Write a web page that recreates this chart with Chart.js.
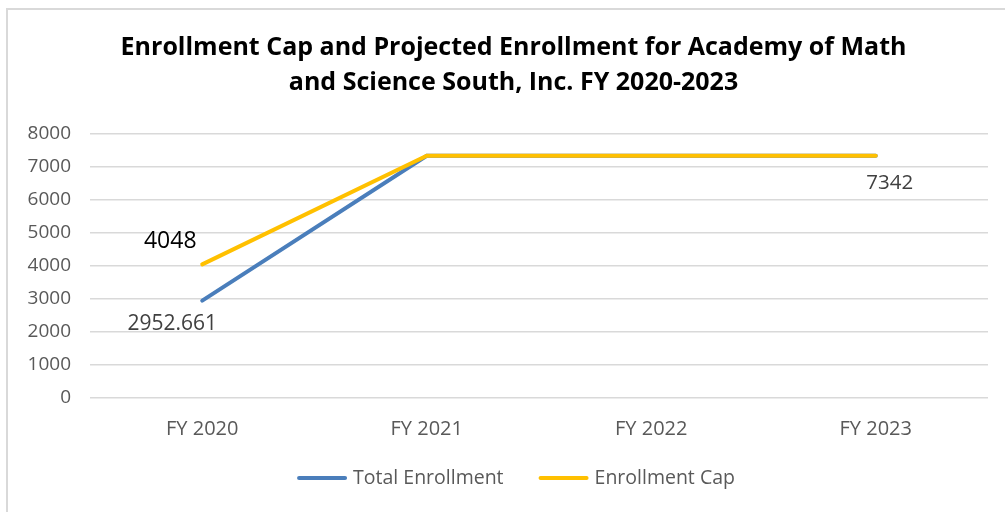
<!DOCTYPE html>
<html>
<head>
<meta charset="utf-8">
<script src="https://cdn.jsdelivr.net/npm/chart.js@4/dist/chart.umd.min.js"></script>
<style>
  html, body { margin: 0; padding: 0; background: #fff; }
  #wrap { position: relative; width: 1005px; height: 512px; overflow: hidden; }
  #frame { position: absolute; left: 6px; top: 8px; width: 1100px; height: 600px;
           border-top: 2px solid #d9d9d9; border-left: 2px solid #d9d9d9; box-sizing: border-box; }
  #c { position: absolute; left: 0; top: 0; }
</style>
</head>
<body>
<div id="wrap">
  <div id="frame"></div>
  <canvas id="c" width="1005" height="512"></canvas>
</div>
<script>
const categories = ["FY 2020", "FY 2021", "FY 2022", "FY 2023"];
const totalEnrollment = [2952.661, 7342, 7342, 7342];
const enrollmentCap = [4048, 7342, 7342, 7342];
const titleLines = ["Enrollment Cap and Projected Enrollment for Academy of Math", "and Science South, Inc. FY 2020-2023"];
const yTicks = [0, 1000, 2000, 3000, 4000, 5000, 6000, 7000, 8000];

// data labels: [datasetIndex, pointIndex, text, dx, dy, color, size]
const pointLabels = [
  [1, 0, "4048", -32, -23, "#000000", 23],
  [0, 0, "2952.661", -30, 23, "#404040", 21],
  [0, 3, "7342", 14, 27, "#404040", 20.5]
];

const FONT = "'Open Sans', 'DejaVu Sans', sans-serif";

const labelPlugin = {
  id: 'pointLabels',
  afterDatasetsDraw(chart) {
    const ctx = chart.ctx;
    ctx.save();
    ctx.textAlign = 'center';
    ctx.textBaseline = 'middle';
    pointLabels.forEach(([ds, i, text, dx, dy, color, size]) => {
      const el = chart.getDatasetMeta(ds).data[i];
      ctx.font = size + "px " + FONT;
      ctx.fillStyle = color;
      ctx.fillText(text, el.x + dx, el.y + dy);
    });
    ctx.restore();
  }
};

// bottom legend drawn from the chart's datasets
const legendPlugin = {
  id: 'bottomLegend',
  afterDraw(chart) {
    const ctx = chart.ctx;
    const lineW = 50, textGap = 6, itemGap = 35, cy = 478, cx = 516;
    ctx.save();
    ctx.font = "19.5px " + FONT;
    const ds = chart.data.datasets;
    const widths = ds.map(d => lineW + textGap + ctx.measureText(d.label).width);
    const total = widths.reduce((a, b) => a + b, 0) + itemGap * (ds.length - 1);
    let x = cx - total / 2;
    ds.forEach((d, k) => {
      ctx.strokeStyle = d.borderColor;
      ctx.lineWidth = 4;
      ctx.lineCap = 'round';
      ctx.beginPath();
      ctx.moveTo(x + 2, cy);
      ctx.lineTo(x + lineW - 2, cy);
      ctx.stroke();
      ctx.fillStyle = '#595959';
      ctx.textAlign = 'left';
      ctx.textBaseline = 'middle';
      ctx.fillText(d.label, x + lineW + textGap, cy);
      x += widths[k] + itemGap;
    });
    ctx.restore();
  }
};

new Chart(document.getElementById('c'), {
  type: 'line',
  data: {
    labels: categories,
    datasets: [
      { label: 'Total Enrollment', data: totalEnrollment, borderColor: '#4a7ebb', backgroundColor: '#4a7ebb',
        borderWidth: 4, pointRadius: 0, tension: 0, order: 2, borderCapStyle: 'round' },
      { label: 'Enrollment Cap', data: enrollmentCap, borderColor: '#ffc000', backgroundColor: '#ffc000',
        borderWidth: 4, pointRadius: 0, tension: 0, order: 1, borderCapStyle: 'round' }
    ]
  },
  options: {
    responsive: false,
    animation: false,
    devicePixelRatio: 1,
    layout: { padding: { left: 24, right: 2, bottom: 61, top: 0 } },
    plugins: {
      title: {
        display: true,
        text: titleLines,
        color: '#000',
        font: { family: FONT, size: 25, weight: 'bold', lineHeight: 1.4 },
        padding: { top: 30, bottom: 34 }
      },
      legend: { display: false },
      tooltip: { enabled: false }
    },
    scales: {
      x: {
        offset: true,
        afterFit(axis) { axis.height = 53; },
        grid: { display: false, drawTicks: false },
        border: { display: false },
        ticks: { color: '#595959', font: { family: FONT, size: 20 }, padding: 19 }
      },
      y: {
        min: 0, max: 8000,
        afterBuildTicks(axis) { axis.ticks = yTicks.map(v => ({ value: v })); },
        afterFit(axis) { axis.width = 66; },
        grid: { color: '#d9d9d9', lineWidth: 1.5, drawTicks: false },
        border: { display: false },
        ticks: { color: '#595959', font: { family: FONT, size: 19 }, padding: 19,
                 callback: (v) => String(v) }
      },
      yRight: {
        position: 'right',
        display: true,
        afterFit(axis) { axis.width = 15; },
        grid: { display: false, drawTicks: false },
        border: { display: false },
        ticks: { display: false }
      }
    }
  },
  plugins: [labelPlugin, legendPlugin]
});
</script>
</body>
</html>
